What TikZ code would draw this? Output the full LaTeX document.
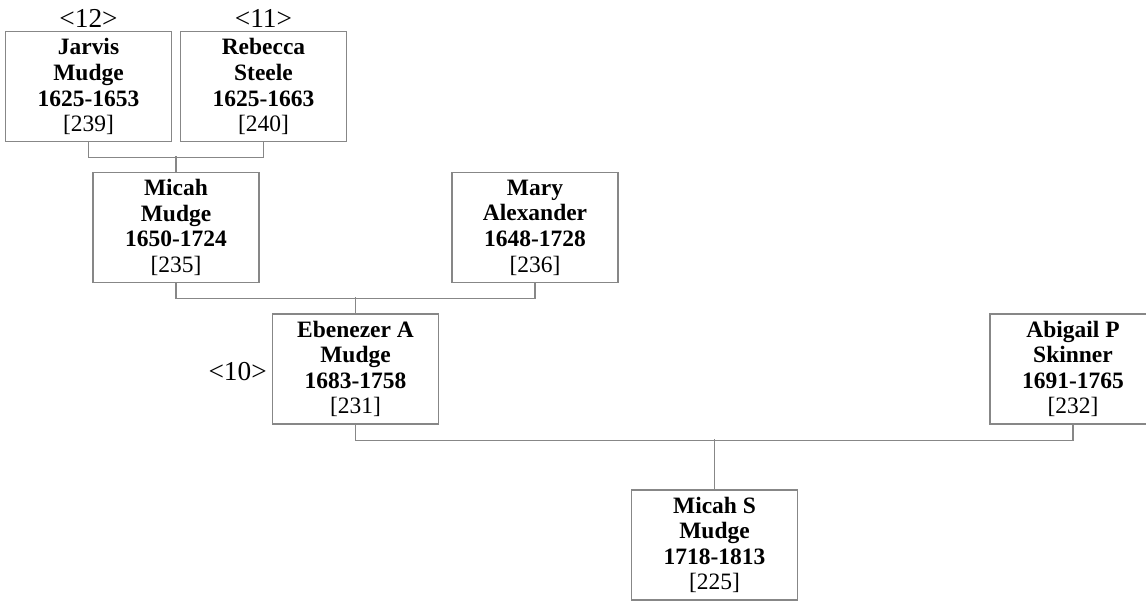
\documentclass[tikz,border=0pt]{standalone}
\usepackage{fontspec}
\setmainfont{Liberation Serif}
\definecolor{linegray}{RGB}{135,135,135}
\newcommand{\idn}[1]{{\mdseries[#1]}}
\begin{document}
\begin{tikzpicture}[x=0.75pt,y=-0.75pt,
  person/.style={draw=linegray, line width=1.1pt, fill=white,
    minimum width=124.5pt, minimum height=82.5pt, inner sep=0pt,
    align=center, font=\fontsize{17.6}{19.2}\selectfont\bfseries, text=black},
  conn/.style={draw=linegray, line width=1.1pt},
  gen/.style={font=\fontsize{20.5}{22}\selectfont, inner sep=0pt, text=black}]
\useasboundingbox (0,0) rectangle (1146,600);

\node[person] (jarvis)   at (88.5,86.7)  {Jarvis\\Mudge\\1625-1653\\\idn{239}};
\node[person] (rebecca)  at (263.5,86.7) {Rebecca\\Steele\\1625-1663\\\idn{240}};
\node[person] (micah)    at (176,227.5)  {Micah\\Mudge\\1650-1724\\\idn{235}};
\node[person] (mary)     at (535,227.5)  {Mary\\Alexander\\1648-1728\\\idn{236}};
\node[person] (ebenezer) at (355.5,369)  {Ebenezer A\\Mudge\\1683-1758\\\idn{231}};
\node[person] (abigail)  at (1073,369)   {Abigail P\\Skinner\\1691-1765\\\idn{232}};
\node[person] (micahs)   at (714.5,545)  {Micah S\\Mudge\\1718-1813\\\idn{225}};

\node[gen] (g12) at (88.5,18) {\textless12\textgreater};
\node[gen] (g11) at (263.5,18) {\textless11\textgreater};
\node[gen, anchor=east] (g10) at (267,372) {\textless10\textgreater};

\draw[conn] (jarvis.south) -- ++(0,15.3) -| (rebecca.south);
\draw[conn] (micah.north) -- ++(0,-16);
\draw[conn] (micah.south) -- ++(0,15.5) -| (mary.south);
\draw[conn] (ebenezer.north) -- ++(0,-16);
\draw[conn] (ebenezer.south) -- ++(0,16) -| (abigail.south);
\draw[conn] (micahs.north) -- ++(0,-50);
\end{tikzpicture}
\end{document}
